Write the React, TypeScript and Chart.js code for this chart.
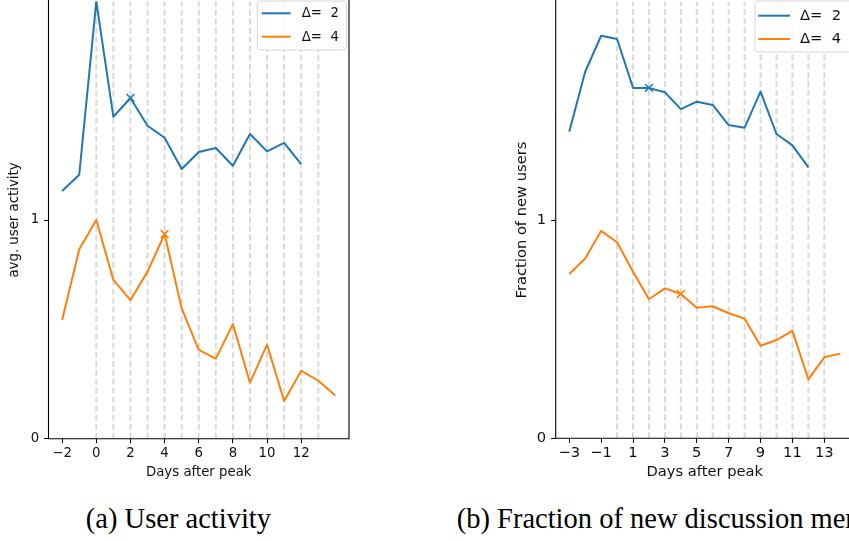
import React, { useEffect, useRef } from "react";
import { Chart, registerables } from "chart.js";

Chart.register(...registerables);

// ---------- data ----------
const activityDaysD2 = [-2, -1, 0, 1, 2, 3, 4, 5, 6, 7, 8, 9, 10, 11, 12];
const activityD2 = [1.133, 1.207, 2.0, 1.472, 1.558, 1.431, 1.376, 1.233, 1.311, 1.329, 1.248, 1.393, 1.314, 1.353, 1.255];
const activityDaysD4 = [-2, -1, 0, 1, 2, 3, 4, 5, 6, 7, 8, 9, 10, 11, 12, 13, 14];
const activityD4 = [0.543, 0.866, 1.0, 0.726, 0.634, 0.764, 0.936, 0.596, 0.406, 0.366, 0.524, 0.256, 0.43, 0.172, 0.311, 0.265, 0.198];

const newUserDaysD2 = [-3, -2, -1, 0, 1, 2, 3, 4, 5, 6, 7, 8, 9, 10, 11, 12];
const newUsersD2 = [1.404, 1.679, 1.844, 1.829, 1.605, 1.605, 1.585, 1.508, 1.542, 1.527, 1.435, 1.423, 1.588, 1.394, 1.342, 1.241];
const newUserDaysD4 = [-3, -2, -1, 0, 1, 2, 3, 4, 5, 6, 7, 8, 9, 10, 11, 12, 13, 14];
const newUsersD4 = [0.753, 0.824, 0.95, 0.898, 0.763, 0.637, 0.687, 0.661, 0.598, 0.605, 0.573, 0.548, 0.424, 0.45, 0.492, 0.27, 0.371, 0.388];

const markerDayD2 = 2;
const markerDayD4 = 4;
const guideDays = [0, 1, 2, 3, 4, 5, 6, 7, 8, 9, 10, 11, 12, 13];
const activityTicks = [-2, 0, 2, 4, 6, 8, 10, 12];
const newUserTicks = [-3, -1, 1, 3, 5, 7, 9, 11, 13];
const yTicks = [0, 1];
const yLimits = [0, 2];
const seriesLabels = ["Δ=  2", "Δ=  4"];
const xTitle = "Days after peak";
const captionA = "(a) User activity";
const captionB = "(b) Fraction of new discussion members";

const BLUE = "#1f77b4";
const ORANGE = "#ff7f0e";

const fmt = (v: number) => (v < 0 ? "\u2212" + Math.abs(v) : String(v));

const toPts = (xs: number[], ys: number[]) => ys.map((y, i) => ({ x: xs[i], y }));

const framePlugin = {
  id: "frame",
  afterDraw(chart: any) {
    const { ctx, chartArea: a } = chart;
    ctx.save();
    ctx.strokeStyle = "#000";
    ctx.lineWidth = 1.1;
    ctx.beginPath();
    ctx.moveTo(a.left, a.top - 2);
    ctx.lineTo(a.left, a.bottom);
    ctx.lineTo(a.right, a.bottom);
    ctx.lineTo(a.right, a.top - 2);
    ctx.stroke();
    ctx.restore();
  },
};

const legendPlugin = {
  id: "boxLegend",
  afterDraw(chart: any, _args: any, o: any) {
    const { ctx } = chart;
    const items = chart.data.datasets.filter((d: any) => !d.isGuide);
    ctx.save();
    ctx.beginPath();
    const r = 3;
    const { x, y, w, h } = o;
    ctx.moveTo(x + r, y);
    ctx.lineTo(x + w - r, y);
    ctx.quadraticCurveTo(x + w, y, x + w, y + r);
    ctx.lineTo(x + w, y + h - r);
    ctx.quadraticCurveTo(x + w, y + h, x + w - r, y + h);
    ctx.lineTo(x + r, y + h);
    ctx.quadraticCurveTo(x, y + h, x, y + h - r);
    ctx.lineTo(x, y + r);
    ctx.quadraticCurveTo(x, y, x + r, y);
    ctx.closePath();
    ctx.fillStyle = "rgba(255,255,255,0.85)";
    ctx.fill();
    ctx.strokeStyle = "#d6d6d6";
    ctx.lineWidth = 1;
    ctx.stroke();
    items.forEach((d: any, i: number) => {
      const ry = o.rows[i];
      ctx.strokeStyle = d.borderColor;
      ctx.lineWidth = 2;
      ctx.beginPath();
      ctx.moveTo(x + o.l0, ry);
      ctx.lineTo(x + o.l1, ry);
      ctx.stroke();
      ctx.fillStyle = "#111";
      ctx.font = `${o.size}px "DejaVu Sans"`;
      ctx.textBaseline = "middle";
      ctx.textAlign = "left";
      ctx.fillText(d.label, x + o.tx, ry + 0.5);
    });
    ctx.restore();
  },
};

interface Spec {
  width: number;
  height: number;
  padTop: number;
  yW: number;
  xH: number;
  xMin: number;
  xMax: number;
  xTicks: number[];
  font: number;
  xTickPad: number;
  yTickPad: number;
  xTitlePad: number;
  yTitlePad: number;
  yTitle: string;
  padRight: number;
  series: { label: string; xs: number[]; ys: number[]; color: string; marker: number }[];
  legend: any;
}

function buildConfig(s: Spec): any {
  const font = { family: "DejaVu Sans", size: s.font };
  const datasets: any[] = s.series.map((se) => ({
    label: se.label,
    data: toPts(se.xs, se.ys),
    borderColor: se.color,
    backgroundColor: se.color,
    borderWidth: 2,
    borderJoinStyle: "round",
    pointStyle: "crossRot",
    pointRadius: (c: any) => (c.raw && c.raw.x === se.marker ? 5.5 : 0),
    pointHoverRadius: 0,
    pointBorderWidth: 1.5,
    pointBorderColor: se.color,
    tension: 0,
  }));
  guideDays.forEach((d) => {
    datasets.push({
      label: "",
      isGuide: true,
      data: [
        { x: d, y: yLimits[0] },
        { x: d, y: yLimits[1] },
      ],
      borderColor: "#d9d9d9",
      borderWidth: 2,
      borderDash: [6, 3],
      pointRadius: 0,
      pointHoverRadius: 0,
    });
  });
  const grid = {
    display: true,
    drawOnChartArea: false,
    drawTicks: true,
    tickLength: 4.5,
    tickColor: "#000",
    tickWidth: 1,
  };
  return {
    type: "line",
    data: { datasets },
    options: {
      responsive: false,
      animation: false,
      devicePixelRatio: 1,
      events: [],
      layout: { padding: { top: s.padTop, left: 0, right: s.padRight, bottom: 0 } },
      plugins: {
        legend: { display: false },
        tooltip: { enabled: false },
        boxLegend: s.legend,
      },
      scales: {
        x: {
          type: "linear",
          min: s.xMin,
          max: s.xMax,
          afterBuildTicks: (sc: any) => {
            sc.ticks = s.xTicks.map((v) => ({ value: v }));
          },
          afterFit: (sc: any) => {
            sc.height = s.xH;
            sc.paddingLeft = 0;
            sc.paddingRight = 0;
          },
          grid,
          border: { display: false },
          ticks: {
            padding: s.xTickPad,
            font,
            color: "#111",
            maxRotation: 0,
            autoSkip: false,
            callback: (v: any) => fmt(Number(v)),
          },
          title: {
            display: true,
            text: xTitle,
            font,
            color: "#111",
            padding: { top: 0, bottom: s.xTitlePad },
          },
        },
        y: {
          type: "linear",
          min: yLimits[0],
          max: yLimits[1],
          afterBuildTicks: (sc: any) => {
            sc.ticks = yTicks.map((v) => ({ value: v }));
          },
          afterFit: (sc: any) => {
            sc.width = s.yW;
            sc.paddingTop = 0;
            sc.paddingBottom = 0;
          },
          grid,
          border: { display: false },
          ticks: { padding: s.yTickPad, font, color: "#111", callback: (v: any) => fmt(Number(v)) },
          title: {
            display: true,
            text: s.yTitle,
            font,
            color: "#111",
            padding: { top: s.yTitlePad, bottom: 0 },
          },
        },
      },
    },
    plugins: [framePlugin, legendPlugin],
  };
}

const specA: Spec = {
  width: 440,
  height: 490,
  padTop: 1.3,
  yW: 48.5,
  xH: 51.3,
  xMin: -2.8,
  xMax: 14.8,
  xTicks: activityTicks,
  font: 13.3,
  xTickPad: 2.6,
  yTickPad: 4.7,
  xTitlePad: 9.5,
  yTitlePad: 7,
  yTitle: "avg. user activity",
  padRight: 440 - 349,
  series: [
    { label: seriesLabels[0], xs: activityDaysD2, ys: activityD2, color: BLUE, marker: markerDayD2 },
    { label: seriesLabels[1], xs: activityDaysD4, ys: activityD4, color: ORANGE, marker: markerDayD4 },
  ],
  legend: { x: 257.3, y: 1, w: 89.4, h: 49, l0: 4.4, l1: 33.4, tx: 44.4, rows: [13.3, 36.7], size: 13.3 },
};

const specB: Spec = {
  width: 390,
  height: 490,
  padTop: 1.7,
  yW: 85.7,
  xH: 51.7,
  xMin: -3.85,
  xMax: 14.85,
  xTicks: newUserTicks,
  font: 14.7,
  xTickPad: 2,
  yTickPad: 5.2,
  xTitlePad: 8.7,
  yTitlePad: 43.2,
  yTitle: "Fraction of new users",
  padRight: 390 - 383.8,
  series: [
    { label: seriesLabels[0], xs: newUserDaysD2, ys: newUsersD2, color: BLUE, marker: markerDayD2 },
    { label: seriesLabels[1], xs: newUserDaysD4, ys: newUsersD4, color: ORANGE, marker: markerDayD4 },
  ],
  legend: { x: 285, y: 1, w: 96.5, h: 51, l0: 3.3, l1: 35, tx: 45, rows: [15.7, 39], size: 14.7 },
};

function Plot({ spec, left }: { spec: Spec; left: number }) {
  const ref = useRef<HTMLCanvasElement | null>(null);
  useEffect(() => {
    if (!ref.current) return;
    const chart = new Chart(ref.current, buildConfig(spec));
    return () => chart.destroy();
  }, [spec]);
  return (
    <canvas
      ref={ref}
      width={spec.width}
      height={spec.height}
      style={{ position: "absolute", left, top: 0, width: spec.width, height: spec.height }}
    />
  );
}

export default function App() {
  const capStyle: React.CSSProperties = {
    position: "absolute",
    top: 504.6,
    fontFamily: '"Liberation Serif", serif',
    fontSize: 28.5,
    lineHeight: "28px",
    whiteSpace: "nowrap",
    color: "#000",
  };
  return (
    <div
      style={{
        position: "absolute",
        left: 0,
        top: 0,
        width: 849,
        height: 541,
        overflow: "hidden",
        background: "#fff",
      }}
    >
      <Plot spec={specA} left={0} />
      <Plot spec={specB} left={470} />
      <div style={{ ...capStyle, left: 0, width: 356.8, textAlign: "center" }}>{captionA}</div>
      <div style={{ ...capStyle, left: 456.7 }}>{captionB}</div>
    </div>
  );
}
